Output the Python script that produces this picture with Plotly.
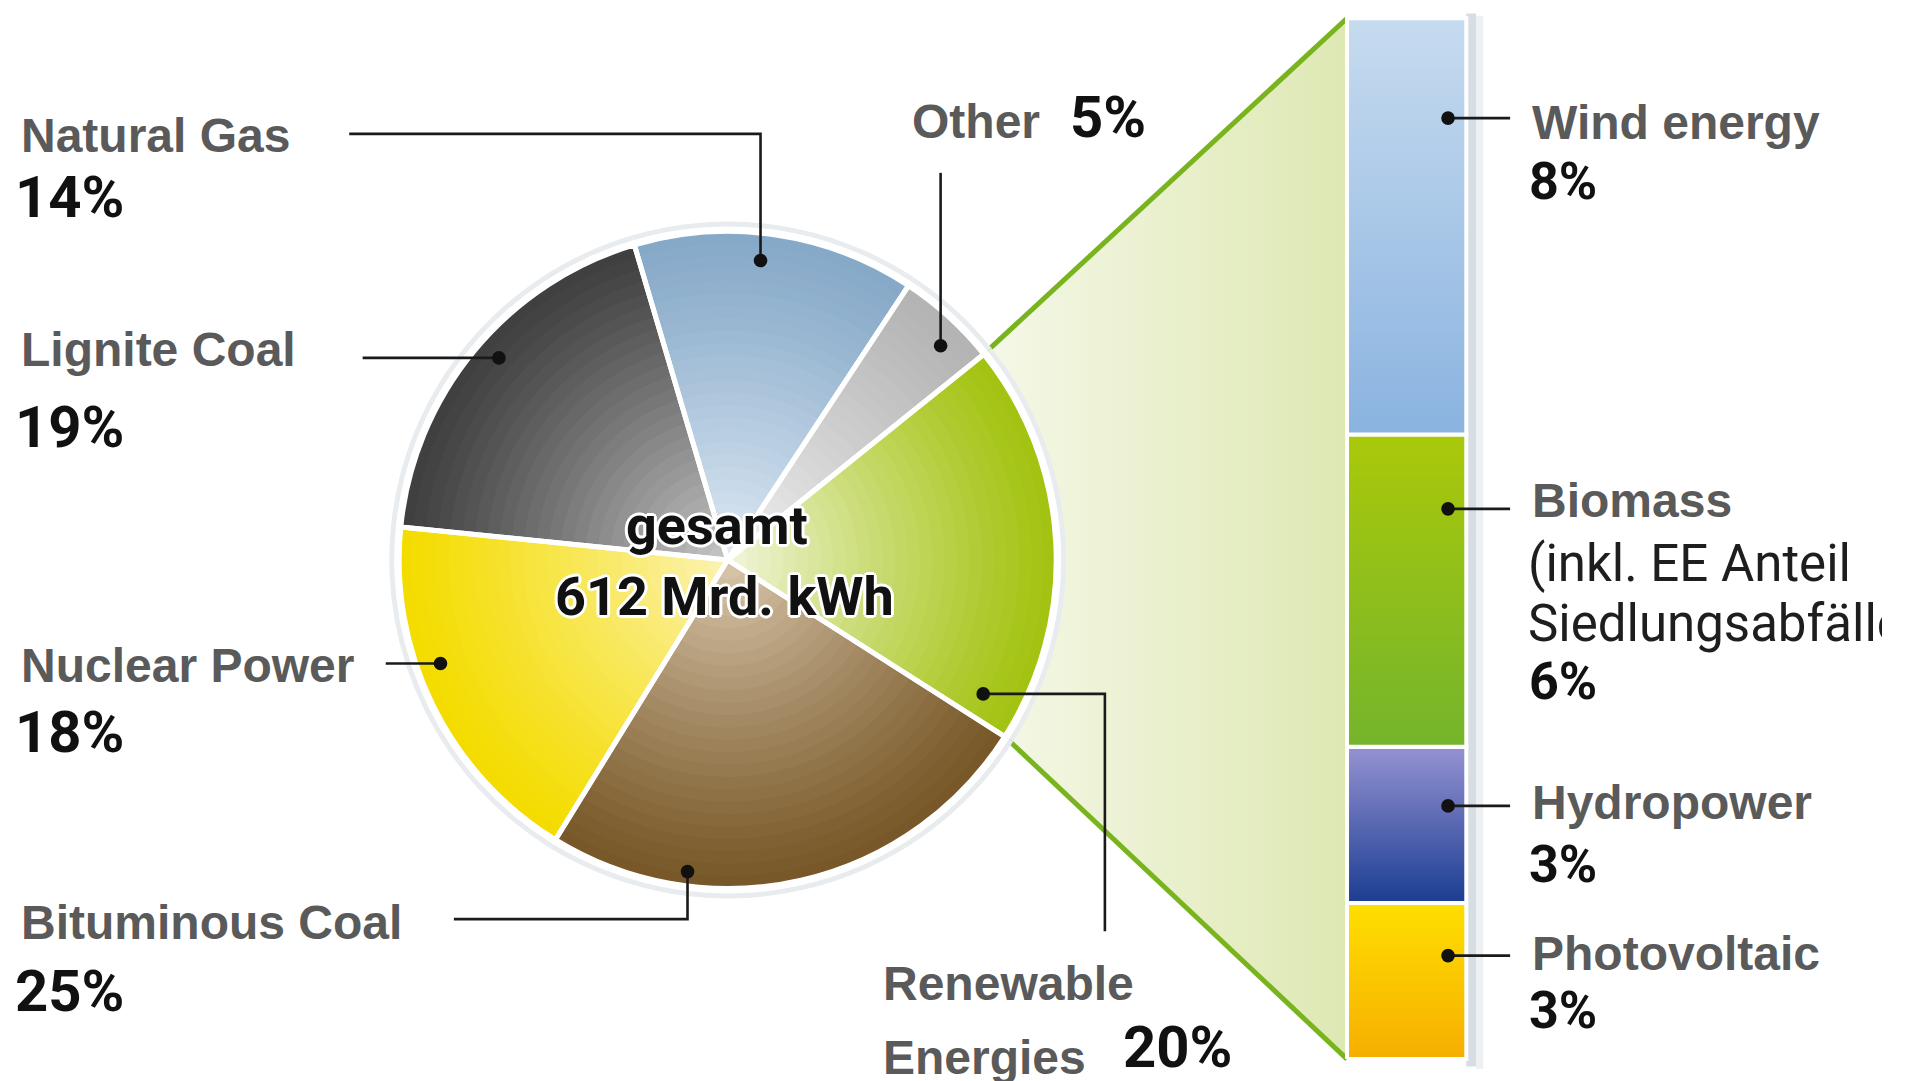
import numpy as np
import plotly.graph_objects as go

# ---------------- data ----------------
sources = ["Natural Gas", "Other", "Renewable Energies", "Bituminous Coal", "Nuclear Power", "Lignite Coal"]
shares = [14, 5, 20, 25, 18, 19]
renew_parts = ["Wind energy", "Biomass", "Hydropower", "Photovoltaic"]
renew_shares = [8, 6, 3, 3]
biomass_note = ["(inkl. EE Anteil", "Siedlungsabfälle"]
total_text = ["gesamt", "612 Mrd. kWh"]

# ---------------- style ----------------
W, H = 1908, 1081
DW, DH = 1568.0, 888.0          # working coordinate frame
S = W / DW
OFF = 8 / S                     # page body margin compensation
outer_cols = ["#86a9c8", "#b4b4b4", "#a3c312", "#785828", "#f4dc00", "#404040"]
inner_cols = ["#e2ecf6", "#f3f3f3", "#f3f6df", "#dccab0", "#fcf4b8", "#cacaca"]
part_top = ["#c6dbef", "#aac90a", "#9592d2", "#ffdf00"]
part_bot = ["#8ab3e0", "#74b42c", "#1b3d92", "#f6ae00"]

PIE_CX, PIE_CY, PIE_R = 598.0, 460.0, 270.0
ROT = -16.5
BX0, BX1, BTOP, BBOT = 1107.0, 1205.0, 15.0, 870.0

LBL_FONT = "Liberation Sans"
PCT_FONT = "Roboto"
LBL_COL = "#5a5a5a"
PCT_COL = "#111111"


def hex2rgb(h):
    h = h.lstrip("#")
    return np.array([int(h[i:i + 2], 16) for i in (0, 2, 4)], dtype=float)


def mix(a, b, t):
    c = hex2rgb(a) * (1 - t) + hex2rgb(b) * t
    return "rgb(%d,%d,%d)" % tuple(np.round(c).astype(int))


fig = go.Figure()


def pie_domain(f):
    rx = f * PIE_R / DW
    ry = f * PIE_R / DH
    cx = (PIE_CX - OFF) / DW
    cy = 1 - (PIE_CY - OFF) / DH
    return dict(x=[cx - rx, cx + rx], y=[cy - ry, cy + ry])


def pie_layer(colors, f, lw=0, lc="white"):
    fig.add_trace(go.Pie(
        values=shares, labels=sources, sort=False, direction="clockwise",
        rotation=ROT, textinfo="none", hoverinfo="skip", showlegend=False,
        marker=dict(colors=colors, line=dict(width=lw, color=lc)),
        domain=pie_domain(f)))


# ---------- renewable zoom wedge ----------
tot = float(sum(shares))
idx = sources.index("Renewable Energies")
a_start = 90 - ROT - 360 * sum(shares[:idx]) / tot
a_end = a_start - 360 * shares[idx] / tot
ax_, ay_ = PIE_CX + PIE_R * np.cos(np.radians(a_start)), PIE_CY - PIE_R * np.sin(np.radians(a_start))
dx_, dy_ = PIE_CX + PIE_R * np.cos(np.radians(a_end)), PIE_CY - PIE_R * np.sin(np.radians(a_end))

fig.add_trace(go.Scatter(
    x=[ax_, BX0, BX0, dx_, ax_], y=[ay_, BTOP, BBOT, dy_, ay_],
    mode="lines", fill="toself", line=dict(width=0),
    fillgradient=dict(type="horizontal", colorscale=[[0, "#f5f8e8"], [1, "#dee8b3"]]),
    hoverinfo="skip", showlegend=False))
for (px, py), (qx, qy) in [((ax_, ay_), (BX0, BTOP)), ((dx_, dy_), (BX0, BBOT))]:
    fig.add_trace(go.Scatter(x=[px, qx], y=[py, qy], mode="lines",
                             line=dict(color="#79b41f", width=5),
                             hoverinfo="skip", showlegend=False))

# ---------- stacked bar (on y2, value axis) ----------
rtot = float(sum(renew_shares))
p0 = 1 - (BBOT - OFF) / DH
p1 = 1 - (BTOP - OFF) / DH
span = rtot / (p1 - p0)
y2_lo = -p0 * span
y2_hi = y2_lo + span

base = 0.0
stack_order = list(range(len(renew_parts)))[::-1]   # bottom: Photovoltaic
for i in stack_order:
    v = renew_shares[i]
    b, t = base, base + v
    fig.add_trace(go.Scatter(
        x=[BX0, BX1, BX1, BX0, BX0], y=[b, b, t, t, b], yaxis="y2",
        mode="lines", fill="toself", line=dict(width=4, color="white"),
        fillgradient=dict(type="vertical", colorscale=[[0, part_bot[i]], [1, part_top[i]]]),
        hoverinfo="skip", showlegend=False, name=renew_parts[i]))
    base = t

# ---------- pie with radial gradient (layers) ----------
pie_layer(["#e8ecef"] * 6, 1.03)
pie_layer(["#ffffff"] * 6, 1.015)
N = 26
for k in range(N):
    f = 1 - k / N * 0.98
    g = (1 - f) ** 1.15
    pie_layer([mix(o, i, g) for o, i in zip(outer_cols, inner_cols)], f)
pie_layer(["rgba(0,0,0,0)"] * 6, 1.0, lw=5, lc="white")

# ---------- connectors ----------
shapes = []
shapes.append(dict(type="rect", xref="x", yref="y", x0=BX1, x1=BX1 + 8, y0=BTOP - 4, y1=BBOT + 6,
                   fillcolor="#d6dee4", line=dict(width=0), layer="below"))
shapes.append(dict(type="rect", xref="x", yref="y", x0=BX1 + 8, x1=BX1 + 14, y0=BTOP - 2, y1=BBOT + 8,
                   fillcolor="#edf1f3", line=dict(width=0), layer="below"))

connectors = [
    [(287, 110), (625, 110), (625, 214)],
    [(298, 294), (410, 294)],
    [(317, 545), (362, 545)],
    [(373, 755), (565, 755), (565, 716)],
    [(773, 142), (773, 284)],
    [(908, 765), (908, 570), (808, 570)],
    [(1241, 97), (1190, 97)],
    [(1241, 418), (1190, 418)],
    [(1241, 662), (1190, 662)],
    [(1241, 785), (1190, 785)],
]
for pts in connectors:
    path = "M " + " L ".join("%g,%g" % p for p in pts)
    shapes.append(dict(type="path", xref="x", yref="y", path=path,
                       line=dict(color="#1a1a1a", width=2.6), layer="above"))
    ex, ey = pts[-1]
    r = 5.6
    shapes.append(dict(type="circle", xref="x", yref="y", x0=ex - r, x1=ex + r, y0=ey - r, y1=ey + r,
                       fillcolor="#111111", line=dict(width=0), layer="above"))

# ---------- text ----------
ann = []


def txt(x, y, s, family, size, color, weight="bold", xanchor="left", shadow=None, width=None):
    font = dict(family=family, size=size, color=color, weight=weight)
    if shadow:
        font["shadow"] = shadow
    a = dict(x=x, y=y, xref="x", yref="y", text=s, showarrow=False,
             xanchor=xanchor, yanchor="middle", font=font)
    if width:
        a["width"] = width
        a["align"] = "left"
    ann.append(a)


LS, PS, PS2 = 48, 58, 52
left_pos = {"Natural Gas": (111, 162), "Lignite Coal": (287, 351),
            "Nuclear Power": (547, 601), "Bituminous Coal": (758, 814)}
for name, val in zip(sources, shares):
    if name in left_pos:
        yl, yp = left_pos[name]
        txt(16, yl, name, LBL_FONT, LS, LBL_COL)
        txt(11, yp, f"{val}%", PCT_FONT, PS, PCT_COL)
    elif name == "Other":
        txt(748, 100, name, LBL_FONT, LS, LBL_COL)
        txt(878, 96, f"{val}%", PCT_FONT, PS, PCT_COL)
    else:
        w1, w2 = name.split(" ")
        txt(724, 808, w1, LBL_FONT, LS, LBL_COL)
        txt(724, 869, w2, LBL_FONT, LS, LBL_COL)
        txt(921, 860, f"{val}%", PCT_FONT, PS, PCT_COL)

right_pos = {"Wind energy": (101, 149), "Biomass": (411, 560),
             "Hydropower": (659, 710), "Photovoltaic": (783, 830)}
for name, val in zip(renew_parts, renew_shares):
    yl, yp = right_pos[name]
    txt(1257, yl, name, LBL_FONT, LS, LBL_COL)
    txt(1255, yp, f"{val}%", PCT_FONT, PS2, PCT_COL)
txt(1254, 463, biomass_note[0], PCT_FONT, 51, "#1e1e1e", weight="normal")
txt(1254, 512, biomass_note[1], PCT_FONT, 51, "#1e1e1e", weight="normal",
    width=int(1880 - 1254 * S))

wsh = ", ".join("%dpx %dpx 0 #fff" % (dx, dy) for dx, dy in
                [(3, 0), (-3, 0), (0, 3), (0, -3), (2, 2), (-2, -2), (2, -2), (-2, 2)])
txt(589, 432, total_text[0], PCT_FONT, 54, "#111111", xanchor="center", shadow=wsh)
txt(595, 490, total_text[1], PCT_FONT, 54, "#111111", xanchor="center", shadow=wsh)

fig.update_layout(
    width=W, height=H, margin=dict(l=0, r=0, t=0, b=0),
    paper_bgcolor="white", plot_bgcolor="white",
    xaxis=dict(range=[OFF, DW + OFF], visible=False, fixedrange=True, domain=[0, 1]),
    yaxis=dict(range=[DH + OFF, OFF], visible=False, fixedrange=True, domain=[0, 1]),
    yaxis2=dict(range=[y2_lo, y2_hi], overlaying="y", visible=False, fixedrange=True),
    shapes=shapes, annotations=ann, showlegend=False,
)

fig.write_html("out.html")
